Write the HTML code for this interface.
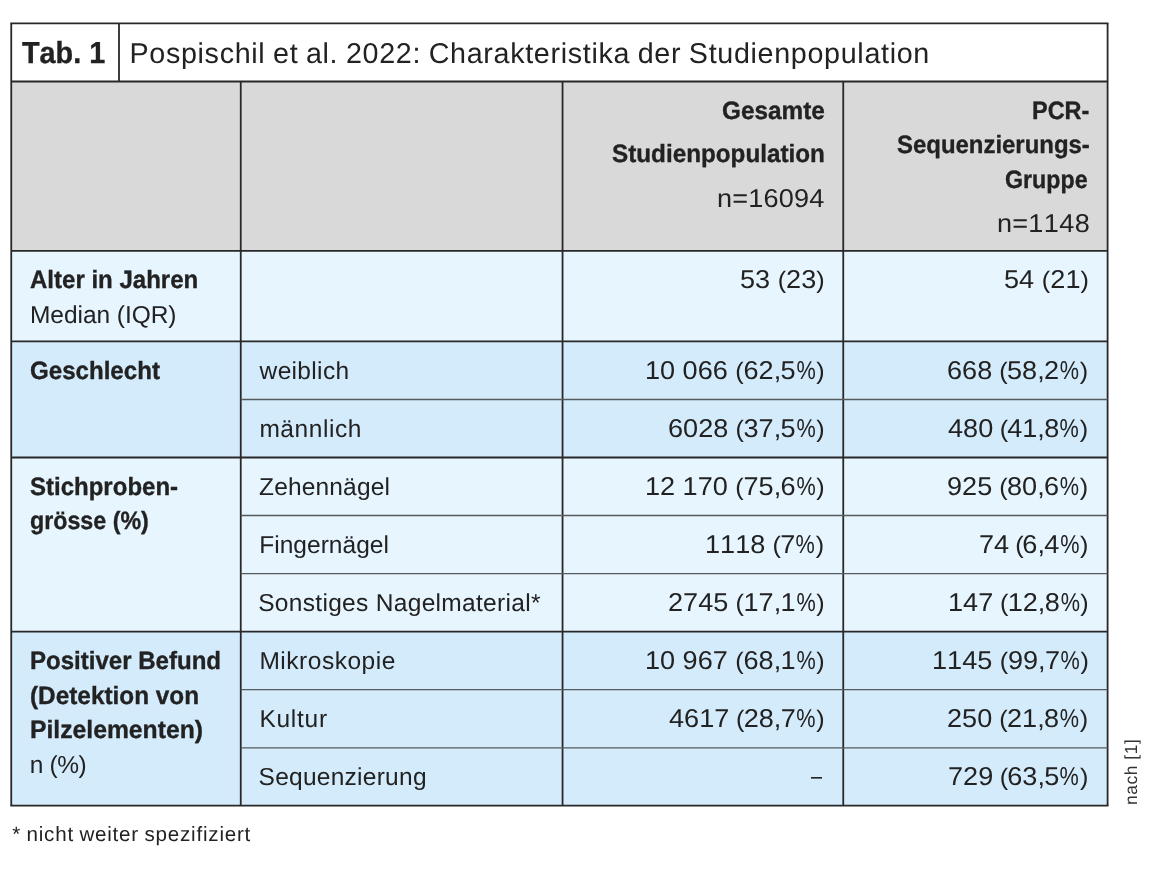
<!DOCTYPE html>
<html lang="de"><head><meta charset="utf-8"><title>Tab. 1</title>
<style>
html,body{margin:0;padding:0;background:#fff;}
body{width:1160px;height:872px;position:relative;overflow:hidden;font-family:"Liberation Sans",sans-serif;color:#222222;}
.r{position:absolute;}
.g{position:absolute;left:0;top:0;}
.pc{display:inline-block;transform:scaleX(0.8);letter-spacing:0;}
.t span{white-space:pre;}
.t{font-kerning:none;position:absolute;white-space:nowrap;display:block;text-rendering:geometricPrecision;}
#tx{position:absolute;left:0;top:0;width:1160px;height:872px;will-change:transform;}
</style></head><body>
<div class="r" style="left:11.25px;top:81.5px;width:1096.35px;height:169.40px;background:#d9d9d9"></div>
<div class="r" style="left:11.25px;top:250.9px;width:1096.35px;height:90.50px;background:#e7f5fe"></div>
<div class="r" style="left:11.25px;top:341.4px;width:1096.35px;height:116.10px;background:#d4ebfb"></div>
<div class="r" style="left:11.25px;top:457.5px;width:1096.35px;height:174.10px;background:#e7f5fe"></div>
<div class="r" style="left:11.25px;top:631.6px;width:1096.35px;height:174.10px;background:#d4ebfb"></div>
<svg class="g" width="1160" height="872" viewBox="0 0 1160 872"><line x1="10.35" y1="23.4" x2="1108.5" y2="23.4" stroke="#282828" stroke-width="1.8"/><line x1="10.35" y1="805.7" x2="1108.5" y2="805.7" stroke="#282828" stroke-width="1.8"/><line x1="11.25" y1="23.4" x2="11.25" y2="805.7" stroke="#282828" stroke-width="1.8"/><line x1="1107.6" y1="23.4" x2="1107.6" y2="805.7" stroke="#282828" stroke-width="1.8"/><line x1="119.0" y1="23.4" x2="119.0" y2="81.5" stroke="#282828" stroke-width="1.8"/><line x1="11.25" y1="81.5" x2="1107.6" y2="81.5" stroke="#282828" stroke-width="1.8"/><line x1="11.25" y1="250.9" x2="1107.6" y2="250.9" stroke="#282828" stroke-width="1.8"/><line x1="11.25" y1="341.4" x2="1107.6" y2="341.4" stroke="#282828" stroke-width="1.8"/><line x1="240.75" y1="81.5" x2="240.75" y2="805.7" stroke="#282828" stroke-width="1.8"/><line x1="562.55" y1="81.5" x2="562.55" y2="805.7" stroke="#282828" stroke-width="1.8"/><line x1="843.25" y1="81.5" x2="843.25" y2="805.7" stroke="#282828" stroke-width="1.8"/><line x1="240.75" y1="399.5" x2="1107.6" y2="399.5" stroke="#555a5d" stroke-width="1.3"/><line x1="11.25" y1="457.5" x2="1107.6" y2="457.5" stroke="#282828" stroke-width="1.8"/><line x1="240.75" y1="515.5" x2="1107.6" y2="515.5" stroke="#555a5d" stroke-width="1.3"/><line x1="240.75" y1="573.6" x2="1107.6" y2="573.6" stroke="#555a5d" stroke-width="1.3"/><line x1="11.25" y1="631.6" x2="1107.6" y2="631.6" stroke="#282828" stroke-width="1.8"/><line x1="240.75" y1="689.7" x2="1107.6" y2="689.7" stroke="#555a5d" stroke-width="1.3"/><line x1="240.75" y1="747.8" x2="1107.6" y2="747.8" stroke="#555a5d" stroke-width="1.3"/></svg>
<div id="tx">
<span class="t" style="left:21.90px;top:36px;font-size:30.4px;line-height:35px;font-weight:700;-webkit-text-stroke:0.35px;transform:scaleX(0.9473);transform-origin:0 0;">Tab. 1</span>
<span class="t" style="left:129.51px;top:38px;font-size:28.7px;line-height:33px;letter-spacing:0.672px;word-spacing:-1.0px;">Pospischil et al. 2022: Charakteristika der Studienpopulation</span>
<span class="t" style="left:721.53px;top:97px;font-size:25.0px;line-height:29px;font-weight:700;-webkit-text-stroke:0.35px;transform:scaleX(0.9729);transform-origin:0 0;">Gesamte</span>
<span class="t" style="left:611.82px;top:140px;font-size:25.0px;line-height:29px;font-weight:700;-webkit-text-stroke:0.35px;transform:scaleX(0.9704);transform-origin:0 0;">Studienpopulation</span>
<span class="t" style="left:716.56px;top:184px;font-size:25.8px;line-height:30px;transform:scaleX(1.0500);transform-origin:0 0;"><span style="letter-spacing:0.200px">n</span><span style="letter-spacing:0.200px">=</span><span style="letter-spacing:0.186px">16094</span></span>
<span class="t" style="left:1032.25px;top:97px;font-size:25.0px;line-height:29px;font-weight:700;-webkit-text-stroke:0.35px;transform:scaleX(0.9388);transform-origin:0 0;">PCR-</span>
<span class="t" style="left:896.83px;top:131px;font-size:25.0px;line-height:29px;font-weight:700;-webkit-text-stroke:0.35px;transform:scaleX(0.9573);transform-origin:0 0;">Sequenzierungs-</span>
<span class="t" style="left:1005.32px;top:166px;font-size:25.0px;line-height:29px;font-weight:700;-webkit-text-stroke:0.35px;transform:scaleX(0.9295);transform-origin:0 0;">Gruppe</span>
<span class="t" style="left:996.56px;top:209px;font-size:25.8px;line-height:30px;transform:scaleX(1.0500);transform-origin:0 0;"><span style="letter-spacing:0.200px">n</span><span style="letter-spacing:0.200px">=</span><span style="letter-spacing:0.387px">1148</span></span>
<span class="t" style="left:30.17px;top:266px;font-size:25.0px;line-height:29px;font-weight:700;-webkit-text-stroke:0.35px;transform:scaleX(0.9611);transform-origin:0 0;">Alter in Jahren</span>
<span class="t" style="left:30.00px;top:302px;font-size:24.5px;line-height:28px;letter-spacing:-0.052px;">Median (IQR)</span>
<span class="t" style="left:739.90px;top:265px;font-size:25.8px;line-height:30px;transform:scaleX(1.0500);transform-origin:0 0;"><span style="letter-spacing:0.030px">53</span><span style="letter-spacing:-0.046px"> </span><span style="font-size:93%;letter-spacing:-0.046px">(</span><span style="letter-spacing:0.030px">23</span><span style="font-size:93%;letter-spacing:0.000px">)</span></span>
<span class="t" style="left:1003.65px;top:265px;font-size:25.8px;line-height:30px;transform:scaleX(1.0500);transform-origin:0 0;"><span style="letter-spacing:0.030px">54</span><span style="letter-spacing:0.073px"> </span><span style="font-size:93%;letter-spacing:0.073px">(</span><span style="letter-spacing:0.030px">21</span><span style="font-size:93%;letter-spacing:0.000px">)</span></span>
<span class="t" style="left:29.79px;top:357px;font-size:25.0px;line-height:29px;font-weight:700;-webkit-text-stroke:0.35px;transform:scaleX(0.9640);transform-origin:0 0;">Geschlecht</span>
<span class="t" style="left:259.60px;top:358px;font-size:24.5px;line-height:28px;letter-spacing:0.339px;">weiblich</span>
<span class="t" style="left:259.40px;top:416px;font-size:24.5px;line-height:28px;letter-spacing:0.554px;">männlich</span>
<span class="t" style="left:645.06px;top:356px;font-size:25.8px;line-height:30px;transform:scaleX(1.0500);transform-origin:0 0;"><span style="letter-spacing:0.030px">10</span><span style="letter-spacing:-0.171px"> </span><span style="letter-spacing:0.030px">066</span><span style="letter-spacing:-0.171px"> </span><span style="font-size:93%;letter-spacing:-0.171px">(</span><span style="letter-spacing:0.030px">62</span><span style="letter-spacing:-0.6px">,</span><span style="letter-spacing:0.030px">5</span><span class="pc" style="margin:0 -1.720px">%</span><span style="font-size:93%;letter-spacing:0.000px">)</span></span>
<span class="t" style="left:667.98px;top:414px;font-size:25.8px;line-height:30px;transform:scaleX(1.0500);transform-origin:0 0;"><span style="letter-spacing:0.030px">6028</span><span style="letter-spacing:-0.399px"> </span><span style="font-size:93%;letter-spacing:-0.399px">(</span><span style="letter-spacing:0.030px">37</span><span style="letter-spacing:-0.6px">,</span><span style="letter-spacing:0.030px">5</span><span class="pc" style="margin:0 -1.720px">%</span><span style="font-size:93%;letter-spacing:0.000px">)</span></span>
<span class="t" style="left:947.48px;top:356px;font-size:25.8px;line-height:30px;transform:scaleX(1.0500);transform-origin:0 0;"><span style="letter-spacing:0.030px">668</span><span style="letter-spacing:-0.590px"> </span><span style="font-size:93%;letter-spacing:-0.590px">(</span><span style="letter-spacing:0.030px">58</span><span style="letter-spacing:-0.6px">,</span><span style="letter-spacing:0.030px">2</span><span class="pc" style="margin:0 -1.720px">%</span><span style="font-size:93%;letter-spacing:0.000px">)</span></span>
<span class="t" style="left:948.33px;top:414px;font-size:25.8px;line-height:30px;transform:scaleX(1.0500);transform-origin:0 0;"><span style="letter-spacing:0.030px">480</span><span style="letter-spacing:-0.993px"> </span><span style="font-size:93%;letter-spacing:-0.993px">(</span><span style="letter-spacing:0.030px">41</span><span style="letter-spacing:-0.6px">,</span><span style="letter-spacing:0.030px">8</span><span class="pc" style="margin:0 -1.720px">%</span><span style="font-size:93%;letter-spacing:0.000px">)</span></span>
<span class="t" style="left:29.83px;top:473px;font-size:25.0px;line-height:29px;font-weight:700;-webkit-text-stroke:0.35px;transform:scaleX(0.9604);transform-origin:0 0;">Stichproben-</span>
<span class="t" style="left:29.57px;top:507px;font-size:25.0px;line-height:29px;font-weight:700;-webkit-text-stroke:0.35px;transform:scaleX(0.9293);transform-origin:0 0;">grösse (%)</span>
<span class="t" style="left:259.00px;top:474px;font-size:24.5px;line-height:28px;letter-spacing:0.170px;">Zehennägel</span>
<span class="t" style="left:259.20px;top:532px;font-size:24.5px;line-height:28px;letter-spacing:0.035px;">Fingernägel</span>
<span class="t" style="left:258.20px;top:590px;font-size:24.5px;line-height:28px;letter-spacing:0.315px;">Sonstiges Nagelmaterial*</span>
<span class="t" style="left:645.06px;top:472px;font-size:25.8px;line-height:30px;transform:scaleX(1.0500);transform-origin:0 0;"><span style="letter-spacing:0.030px">12</span><span style="letter-spacing:-0.171px"> </span><span style="letter-spacing:0.030px">170</span><span style="letter-spacing:-0.171px"> </span><span style="font-size:93%;letter-spacing:-0.171px">(</span><span style="letter-spacing:0.030px">75</span><span style="letter-spacing:-0.6px">,</span><span style="letter-spacing:0.030px">6</span><span class="pc" style="margin:0 -1.720px">%</span><span style="font-size:93%;letter-spacing:0.000px">)</span></span>
<span class="t" style="left:705.31px;top:530px;font-size:25.8px;line-height:30px;transform:scaleX(1.0500);transform-origin:0 0;"><span style="letter-spacing:0.030px">1118</span><span style="letter-spacing:-0.511px"> </span><span style="font-size:93%;letter-spacing:-0.511px">(</span><span style="letter-spacing:0.030px">7</span><span class="pc" style="margin:0 -1.720px">%</span><span style="font-size:93%;letter-spacing:0.000px">)</span></span>
<span class="t" style="left:667.98px;top:588px;font-size:25.8px;line-height:30px;transform:scaleX(1.0500);transform-origin:0 0;"><span style="letter-spacing:0.030px">2745</span><span style="letter-spacing:-0.399px"> </span><span style="font-size:93%;letter-spacing:-0.399px">(</span><span style="letter-spacing:0.030px">17</span><span style="letter-spacing:-0.6px">,</span><span style="letter-spacing:0.030px">1</span><span class="pc" style="margin:0 -1.720px">%</span><span style="font-size:93%;letter-spacing:0.000px">)</span></span>
<span class="t" style="left:947.48px;top:472px;font-size:25.8px;line-height:30px;transform:scaleX(1.0500);transform-origin:0 0;"><span style="letter-spacing:0.030px">925</span><span style="letter-spacing:-0.590px"> </span><span style="font-size:93%;letter-spacing:-0.590px">(</span><span style="letter-spacing:0.030px">80</span><span style="letter-spacing:-0.6px">,</span><span style="letter-spacing:0.030px">6</span><span class="pc" style="margin:0 -1.720px">%</span><span style="font-size:93%;letter-spacing:0.000px">)</span></span>
<span class="t" style="left:979.23px;top:530px;font-size:25.8px;line-height:30px;transform:scaleX(1.0500);transform-origin:0 0;"><span style="letter-spacing:0.030px">74</span><span style="letter-spacing:-1.331px"> </span><span style="font-size:93%;letter-spacing:-1.331px">(</span><span style="letter-spacing:0.030px">6</span><span style="letter-spacing:-0.6px">,</span><span style="letter-spacing:0.030px">4</span><span class="pc" style="margin:0 -1.720px">%</span><span style="font-size:93%;letter-spacing:0.000px">)</span></span>
<span class="t" style="left:947.81px;top:588px;font-size:25.8px;line-height:30px;transform:scaleX(1.0500);transform-origin:0 0;"><span style="letter-spacing:0.030px">147</span><span style="letter-spacing:-0.746px"> </span><span style="font-size:93%;letter-spacing:-0.746px">(</span><span style="letter-spacing:0.030px">12</span><span style="letter-spacing:-0.6px">,</span><span style="letter-spacing:0.030px">8</span><span class="pc" style="margin:0 -1.720px">%</span><span style="font-size:93%;letter-spacing:0.000px">)</span></span>
<span class="t" style="left:29.66px;top:647px;font-size:25.0px;line-height:29px;font-weight:700;-webkit-text-stroke:0.35px;transform:scaleX(0.9618);transform-origin:0 0;">Positiver Befund</span>
<span class="t" style="left:29.53px;top:682px;font-size:25.0px;line-height:29px;font-weight:700;-webkit-text-stroke:0.35px;transform:scaleX(0.9740);transform-origin:0 0;">(Detektion von</span>
<span class="t" style="left:29.62px;top:716px;font-size:25.0px;line-height:29px;font-weight:700;-webkit-text-stroke:0.35px;transform:scaleX(0.9882);transform-origin:0 0;">Pilzelementen)</span>
<span class="t" style="left:29.85px;top:752px;font-size:24.5px;line-height:28px;letter-spacing:-0.431px;">n (%)</span>
<span class="t" style="left:259.40px;top:648px;font-size:24.5px;line-height:28px;letter-spacing:0.522px;">Mikroskopie</span>
<span class="t" style="left:259.40px;top:706px;font-size:24.5px;line-height:28px;letter-spacing:0.741px;">Kultur</span>
<span class="t" style="left:258.60px;top:764px;font-size:24.5px;line-height:28px;letter-spacing:0.258px;">Sequenzierung</span>
<span class="t" style="left:645.06px;top:646px;font-size:25.8px;line-height:30px;transform:scaleX(1.0500);transform-origin:0 0;"><span style="letter-spacing:0.030px">10</span><span style="letter-spacing:-0.171px"> </span><span style="letter-spacing:0.030px">967</span><span style="letter-spacing:-0.171px"> </span><span style="font-size:93%;letter-spacing:-0.171px">(</span><span style="letter-spacing:0.030px">68</span><span style="letter-spacing:-0.6px">,</span><span style="letter-spacing:0.030px">1</span><span class="pc" style="margin:0 -1.720px">%</span><span style="font-size:93%;letter-spacing:0.000px">)</span></span>
<span class="t" style="left:668.83px;top:704px;font-size:25.8px;line-height:30px;transform:scaleX(1.0500);transform-origin:0 0;"><span style="letter-spacing:0.030px">4617</span><span style="letter-spacing:-0.802px"> </span><span style="font-size:93%;letter-spacing:-0.802px">(</span><span style="letter-spacing:0.030px">28</span><span style="letter-spacing:-0.6px">,</span><span style="letter-spacing:0.030px">7</span><span class="pc" style="margin:0 -1.720px">%</span><span style="font-size:93%;letter-spacing:0.000px">)</span></span>
<span class="t" style="left:811.25px;top:763px;font-size:24.5px;line-height:28px;transform:scaleX(0.8066);transform-origin:0 0;">–</span>
<span class="t" style="left:931.56px;top:646px;font-size:25.8px;line-height:30px;transform:scaleX(1.0500);transform-origin:0 0;"><span style="letter-spacing:0.030px">1145</span><span style="letter-spacing:-0.197px"> </span><span style="font-size:93%;letter-spacing:-0.197px">(</span><span style="letter-spacing:0.030px">99</span><span style="letter-spacing:-0.6px">,</span><span style="letter-spacing:0.030px">7</span><span class="pc" style="margin:0 -1.720px">%</span><span style="font-size:93%;letter-spacing:0.000px">)</span></span>
<span class="t" style="left:947.48px;top:704px;font-size:25.8px;line-height:30px;transform:scaleX(1.0500);transform-origin:0 0;"><span style="letter-spacing:0.030px">250</span><span style="letter-spacing:-0.590px"> </span><span style="font-size:93%;letter-spacing:-0.590px">(</span><span style="letter-spacing:0.030px">21</span><span style="letter-spacing:-0.6px">,</span><span style="letter-spacing:0.030px">8</span><span class="pc" style="margin:0 -1.720px">%</span><span style="font-size:93%;letter-spacing:0.000px">)</span></span>
<span class="t" style="left:948.23px;top:762px;font-size:25.8px;line-height:30px;transform:scaleX(1.0500);transform-origin:0 0;"><span style="letter-spacing:0.030px">729</span><span style="letter-spacing:-0.947px"> </span><span style="font-size:93%;letter-spacing:-0.947px">(</span><span style="letter-spacing:0.030px">63</span><span style="letter-spacing:-0.6px">,</span><span style="letter-spacing:0.030px">5</span><span class="pc" style="margin:0 -1.720px">%</span><span style="font-size:93%;letter-spacing:0.000px">)</span></span>
<span class="t" style="left:12.20px;top:823px;font-size:20.6px;line-height:24px;letter-spacing:0.779px;word-spacing:-1.0px;">* nicht weiter spezifiziert</span>
<span class="t" id="rot" style="left:1140.7px;top:804.5px;font-size:17.5px;line-height:20px;transform-origin:0 0;transform:rotate(-90deg) translateY(-100%);letter-spacing:0.5px;color:#333">nach [1]</span>
</div>
</body></html>
